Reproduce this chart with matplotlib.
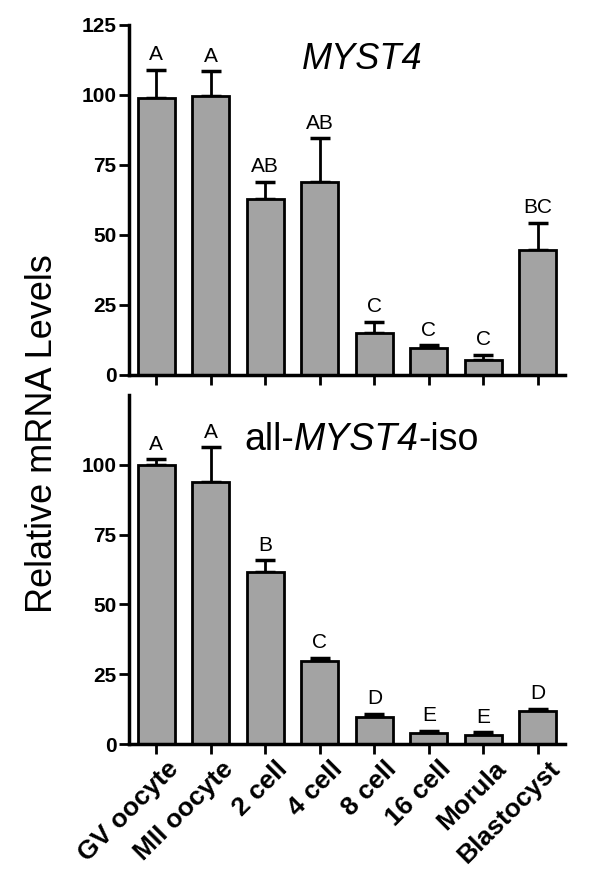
import numpy as np
import matplotlib
matplotlib.use("Agg")
import matplotlib.pyplot as plt
import matplotlib.transforms as mtransforms
from matplotlib.offsetbox import TextArea, HPacker, AnchoredOffsetbox

plt.rcParams['font.family'] = ['Liberation Sans', 'DejaVu Sans']

stages = ['GV oocyte', 'MII oocyte', '2 cell', '4 cell', '8 cell', '16 cell', 'Morula', 'Blastocyst']

# MYST4 panel
myst4_mean = [98.9, 99.6, 62.7, 68.9, 15.1, 9.5, 5.4, 44.6]
myst4_err = [10.0, 8.7, 6.3, 15.6, 3.9, 1.0, 1.7, 9.6]
myst4_letters = ['A', 'A', 'AB', 'AB', 'C', 'C', 'C', 'BC']

# all-MYST4-iso panel
iso_mean = [100.0, 93.8, 61.8, 29.6, 9.6, 3.8, 3.2, 11.9]
iso_err = [2.0, 12.5, 4.0, 1.4, 1.2, 1.0, 1.0, 0.7]
iso_letters = ['A', 'A', 'B', 'C', 'D', 'E', 'E', 'D']

fig = plt.figure(figsize=(6, 8.8), dpi=100)
ax1 = fig.add_axes([0.215, 0.574, 0.727, 0.398])
ax2 = fig.add_axes([0.215, 0.1545, 0.727, 0.3965])

x = np.arange(len(stages))

def draw_panel(ax, mean, err, letters, yticks):
    ax.bar(x, mean, width=0.68, color='#a3a3a3', edgecolor='black', linewidth=2, zorder=2)
    ax.errorbar(x, mean, yerr=[np.zeros(len(err)), err], fmt='none', ecolor='black',
                elinewidth=2, capsize=7, capthick=2.5, zorder=1)
    for xi, m, e, lab in zip(x, mean, err, letters):
        ax.annotate(lab, (xi, m + e), xytext=(0, 4), textcoords='offset points',
                    ha='center', va='bottom', fontsize=15)
    ax.set_xlim(-0.5, 7.5)
    ax.set_ylim(0, 125)
    ax.set_yticks(yticks)
    ax.set_xticks(x)
    for s in ['top', 'right']:
        ax.spines[s].set_visible(False)
    for s in ['left', 'bottom']:
        ax.spines[s].set_linewidth(2.5)
    ax.tick_params(axis='both', width=2, length=7, direction='out', pad=2)
    for t in ax.get_yticklabels():
        t.set_fontweight('bold')
        t.set_fontsize(15)

draw_panel(ax1, myst4_mean, myst4_err, myst4_letters, [0, 25, 50, 75, 100, 125])
draw_panel(ax2, iso_mean, iso_err, iso_letters, [0, 25, 50, 75, 100])

ax1.set_xticklabels([])
ax2.set_xticklabels(stages, rotation=45, ha='right', va='top', rotation_mode='anchor',
                    fontsize=19, fontweight='bold')
shift = mtransforms.ScaledTranslation(10 / 100, 0, fig.dpi_scale_trans)
for t in ax2.get_xticklabels():
    t.set_transform(t.get_transform() + shift)

ax1.text(0.534, 0.90, 'MYST4', transform=ax1.transAxes, ha='center', va='center',
         fontsize=26, style='italic')

# mixed upright / italic title for the lower panel
parts = [TextArea('all-', textprops=dict(fontsize=27)),
         TextArea('MYST4', textprops=dict(fontsize=27, style='italic')),
         TextArea('-iso', textprops=dict(fontsize=27))]
title2 = AnchoredOffsetbox(loc='center', child=HPacker(children=parts, sep=0, pad=0, align='baseline'),
                           bbox_to_anchor=(0.533, 0.87), bbox_transform=ax2.transAxes,
                           frameon=False, pad=0, borderpad=0)
ax2.add_artist(title2)

fig.text(0.07, 0.507, 'Relative mRNA Levels', rotation=90, ha='center', va='center',
         fontsize=26)

fig.savefig('out.png', dpi=100)
